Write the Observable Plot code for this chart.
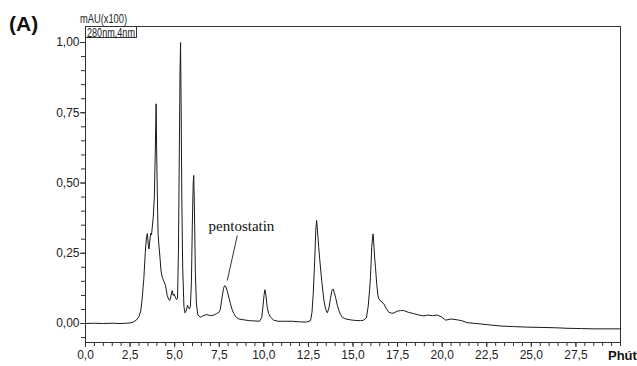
<!DOCTYPE html>
<html>
<head>
<meta charset="utf-8">
<script src="https://cdn.jsdelivr.net/npm/d3@7"></script>
<script src="https://cdn.jsdelivr.net/npm/@observablehq/plot@0.6"></script>
<style>
  html, body { margin: 0; padding: 0; background: #fff; }
  #chart { width: 637px; height: 366px; }
</style>
</head>
<body>
<div id="chart"></div>
<script>
// Retention time (min) and absorbance (mAU x100)
const time = [
  0.0, 0.5, 1.0, 1.5, 2.0, 2.3, 2.5, 2.7, 2.85, 3.0, 3.1, 3.18, 3.27, 3.35, 3.42, 3.47,
  3.52, 3.56, 3.6, 3.65, 3.7, 3.74, 3.8, 3.86, 3.91, 3.96, 3.99, 4.03, 4.07, 4.11, 4.17,
  4.23, 4.3, 4.4, 4.49, 4.58, 4.67, 4.73, 4.8, 4.86, 4.92, 4.97, 5.03, 5.1, 5.16, 5.21,
  5.26, 5.3, 5.33, 5.36, 5.4, 5.45, 5.52, 5.58, 5.65, 5.72, 5.77, 5.82, 5.88, 5.94, 5.99,
  6.04, 6.07, 6.11, 6.16, 6.22, 6.3, 6.45, 6.6, 6.8, 7.0, 7.2, 7.35, 7.48, 7.56, 7.66,
  7.74, 7.8, 7.88, 7.95, 8.05, 8.13, 8.22, 8.32, 8.45, 8.6, 8.88, 9.2, 9.5, 9.75, 9.88,
  9.95, 10.01, 10.06, 10.11, 10.19, 10.27, 10.38, 10.55, 10.8, 11.2, 11.6, 12.0, 12.4,
  12.62, 12.7, 12.77, 12.85, 12.91, 12.96, 13.01, 13.08, 13.14, 13.25, 13.37, 13.47,
  13.56, 13.65, 13.74, 13.82, 13.89, 13.95, 14.02, 14.12, 14.21, 14.3, 14.4, 14.6, 14.86,
  15.1, 15.42, 15.6, 15.75, 15.85, 15.93, 15.98, 16.05, 16.1, 16.13, 16.18, 16.22, 16.26,
  16.33, 16.4, 16.45, 16.55, 16.73, 16.85, 17.01, 17.15, 17.29, 17.48, 17.67, 17.85,
  18.1, 18.41, 18.7, 18.97, 19.2, 19.45, 19.72, 19.95, 20.2, 20.5, 20.85, 21.1, 21.4,
  21.9, 22.5, 23.3, 24.0, 24.8, 25.6, 26.3, 27.0, 27.8, 28.5, 29.2, 30.0
];
const absorbance = [
  0.0, 0.001, 0.0, 0.001, 0.0, 0.001, 0.002, 0.006, 0.012, 0.025, 0.045, 0.09, 0.16, 0.25, 0.31, 0.32,
  0.28, 0.265, 0.29, 0.32, 0.315, 0.34, 0.38, 0.45, 0.6, 0.782, 0.62, 0.45, 0.32, 0.283, 0.24,
  0.19, 0.165, 0.15, 0.135, 0.1, 0.085, 0.082, 0.1, 0.117, 0.1, 0.105, 0.095, 0.085, 0.09, 0.25,
  0.6, 0.9, 1.0, 0.8, 0.45, 0.2, 0.06, 0.038, 0.045, 0.065, 0.058, 0.052, 0.06, 0.15, 0.35,
  0.5, 0.527, 0.4, 0.18, 0.07, 0.03, 0.022, 0.028, 0.032, 0.028, 0.03, 0.035, 0.04, 0.05, 0.094,
  0.125, 0.135, 0.13, 0.115, 0.09, 0.07, 0.05, 0.035, 0.022, 0.016, 0.013, 0.01, 0.009, 0.008, 0.02,
  0.06, 0.1, 0.12, 0.105, 0.058, 0.035, 0.022, 0.012, 0.008, 0.008, 0.008, 0.006, 0.005,
  0.01, 0.04, 0.105, 0.22, 0.33, 0.367, 0.33, 0.27, 0.224, 0.15, 0.082, 0.05,
  0.038, 0.055, 0.09, 0.118, 0.123, 0.11, 0.094, 0.065, 0.046, 0.032, 0.022, 0.016, 0.013,
  0.011, 0.01, 0.012, 0.02, 0.06, 0.12, 0.165, 0.27, 0.31, 0.319, 0.27, 0.23, 0.2,
  0.14, 0.1, 0.088, 0.08, 0.07, 0.055, 0.04, 0.037, 0.037, 0.044, 0.046, 0.046,
  0.04, 0.035, 0.03, 0.027, 0.03, 0.028, 0.03, 0.024, 0.012, 0.016, 0.013, 0.01, 0.003,
  0.0, -0.004, -0.009, -0.011, -0.013, -0.014, -0.015, -0.017, -0.018, -0.019, -0.019, -0.019
];

// Axis ticks
const xLabelTicks = d3.range(0, 27.501, 2.5);
const xMinorTicks = d3.range(0, 30.001, 0.5);
const yMajorTicks = [0, 0.25, 0.5, 0.75, 1.0];
const yMinorTicks = d3.range(-0.05, 1.0001, 0.05);

// Peak annotation
const annotationText = ["pentostatin"];
const annotationTime = [6.9];
const annotationAbs = [0.33];
const leaderFrom = [8.51, 0.313];
const leaderTo = [7.95, 0.153];

const series = time.map((t, i) => ({t, v: absorbance[i]}));
const annotations = annotationText.map((s, i) => ({s, t: annotationTime[i], v: annotationAbs[i]}));
const leaders = [{x1: leaderFrom[0], y1: leaderFrom[1], x2: leaderTo[0], y2: leaderTo[1]}];

const fmtY = d => d.toFixed(2).replace(".", ",");
const fmtX = d => d.toFixed(1).replace(".", ",");

const tickFont = "'Liberation Sans Narrow', 'Arial Narrow', 'Liberation Sans', Arial, sans-serif";

const chart = Plot.plot({
  width: 637,
  height: 366,
  marginLeft: 85,
  marginRight: 17,
  marginTop: 26,
  marginBottom: 24,
  style: {fontFamily: tickFont, fontSize: "12px", color: "#222", background: "#fff"},
  x: {domain: [0, 30]},
  y: {domain: [-0.0676, 1.057]},
  marks: [
    Plot.frame({stroke: "#333", strokeWidth: 1}),
    Plot.axisX({ticks: xMinorTicks, tickFormat: () => "", tickSize: 4, label: null, stroke: "#333"}),
    Plot.axisX({ticks: xLabelTicks, tickFormat: fmtX, tickSize: 5, tickPadding: 3, label: null, fontSize: 12, stroke: "#333", fill: "#222"}),
    Plot.axisY({ticks: yMinorTicks, tickFormat: () => "", tickSize: 4, label: null, stroke: "#333"}),
    Plot.axisY({ticks: yMajorTicks, tickFormat: fmtY, tickSize: 5, tickPadding: 1, label: null, fontSize: 12, stroke: "#333", fill: "#222"}),
    Plot.line(series, {x: "t", y: "v", stroke: "#1a1a1a", strokeWidth: 1}),
    Plot.link(leaders, {x1: "x1", y1: "y1", x2: "x2", y2: "y2", stroke: "#333", strokeWidth: 1}),
    Plot.text(annotations, {x: "t", y: "v", text: "s", textAnchor: "start", lineAnchor: "bottom",
      fontFamily: "'Liberation Serif', 'Times New Roman', serif", fontSize: 15, fill: "#111"})
  ]
});

document.getElementById("chart").appendChild(chart);

// Header and unit labels
const svg = d3.select(chart);
svg.append("text").attr("x", 9).attr("y", 31).attr("text-anchor", "start")
  .attr("font-family", "'Liberation Sans', Arial, sans-serif").attr("font-weight", "bold")
  .attr("font-size", 21).attr("fill", "#111").text("(A)");
svg.append("text").attr("x", 80).attr("y", 23).attr("text-anchor", "start")
  .attr("textLength", 47).attr("lengthAdjust", "spacingAndGlyphs")
  .attr("font-family", tickFont).attr("font-size", 12).attr("fill", "#222").text("mAU(x100)");
svg.append("rect").attr("x", 85.5).attr("y", 26.5).attr("width", 51).attr("height", 11)
  .attr("fill", "#fff").attr("stroke", "#333").attr("stroke-width", 1);
svg.append("text").attr("x", 87).attr("y", 36.5).attr("text-anchor", "start")
  .attr("textLength", 48).attr("lengthAdjust", "spacingAndGlyphs")
  .attr("font-family", tickFont).attr("font-size", 12).attr("fill", "#222").text("280nm,4nm");
svg.append("text").attr("x", 608).attr("y", 360).attr("text-anchor", "start")
  .attr("font-family", "'Liberation Sans', Arial, sans-serif").attr("font-weight", "bold")
  .attr("font-size", 13).attr("fill", "#111").text("Phút");
</script>
</body>
</html>
